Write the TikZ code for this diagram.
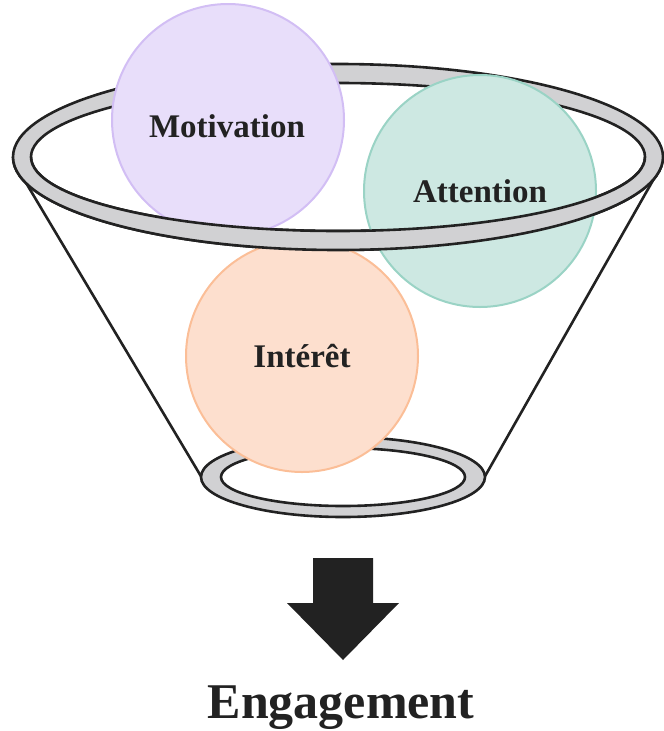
\documentclass[tikz,border=0pt]{standalone}
\usepackage{fontspec}
\setmainfont{Liberation Serif}
\definecolor{rimgray}{HTML}{D1D1D3}
\definecolor{ink}{HTML}{222222}
\definecolor{motfill}{HTML}{E8DEFA}
\definecolor{motline}{HTML}{D2BEF4}
\definecolor{attfill}{HTML}{CDE8E2}
\definecolor{attline}{HTML}{9AD3C5}
\definecolor{intfill}{HTML}{FDDFCE}
\definecolor{intline}{HTML}{FBBE97}
\begin{document}
\begin{tikzpicture}[x=1pt,y=-1pt,
  rimband/.style={fill=rimgray, even odd rule},
  rimline/.style={draw=ink, line width=2.6pt},
  side/.style={draw=ink, line width=2.6pt},
  bubble/.style={circle, line width=2pt, minimum size=232pt, inner sep=0pt},
  word/.style={anchor=base, font=\bfseries\fontsize{33}{36}\selectfont, text=ink},
  bigword/.style={anchor=base, font=\bfseries\fontsize{50}{56}\selectfont, text=ink},
  bigarrow/.style={fill=ink}]
\useasboundingbox (0,0) rectangle (664,731);

% centres of the two rims
\coordinate (top) at (338,157);
\coordinate (bot) at (343,477);

% funnel sides
\coordinate (tl) at (16,166);
\coordinate (tr) at (660,168);
\coordinate (bl) at (202,478);
\coordinate (br) at (484,478);
\draw[side] (tl) -- (bl);
\draw[side] (tr) -- (br);

% upper rim (full band)
\fill[rimband] (top) ellipse[x radius=325pt, y radius=93pt] (top) ellipse[x radius=307pt, y radius=74pt];
\draw[rimline] (top) ellipse[x radius=325pt, y radius=93pt];
\draw[rimline] (top) ellipse[x radius=307pt, y radius=74pt];

% lower rim
\fill[rimband] (bot) ellipse[x radius=142pt, y radius=40pt] (bot) ellipse[x radius=122pt, y radius=29pt];
\draw[rimline] (bot) ellipse[x radius=142pt, y radius=40pt];
\draw[rimline] (bot) ellipse[x radius=122pt, y radius=29pt];

% the three balls
\node[bubble, fill=motfill, draw=motline] (mot) at (228,120) {};
\node[bubble, fill=attfill, draw=attline] (att) at (480,191) {};
\node[bubble, fill=intfill, draw=intline] (int) at (302,356) {};
\node[word] (motT) at (227,137) {Motivation};
\node[word] (attT) at (480,202) {Attention};
\node[word] (intT) at (302,367) {Intérêt};

% front half of the upper rim passes over the balls
\begin{scope}
  \clip (0,157) rectangle (664,260);
  \fill[rimband] (top) ellipse[x radius=325pt, y radius=93pt] (top) ellipse[x radius=307pt, y radius=74pt];
  \draw[rimline] (top) ellipse[x radius=325pt, y radius=93pt];
  \draw[rimline] (top) ellipse[x radius=307pt, y radius=74pt];
\end{scope}

% result arrow
\coordinate (tip) at (343,660);
\fill[bigarrow] (313,558) -- (373,558) -- (373,603) -- (399,603) -- (tip) -- (287,603) -- (313,603) -- cycle;
\node[bigword] (eng) at (341,718) {Engagement};
\end{tikzpicture}
\end{document}
